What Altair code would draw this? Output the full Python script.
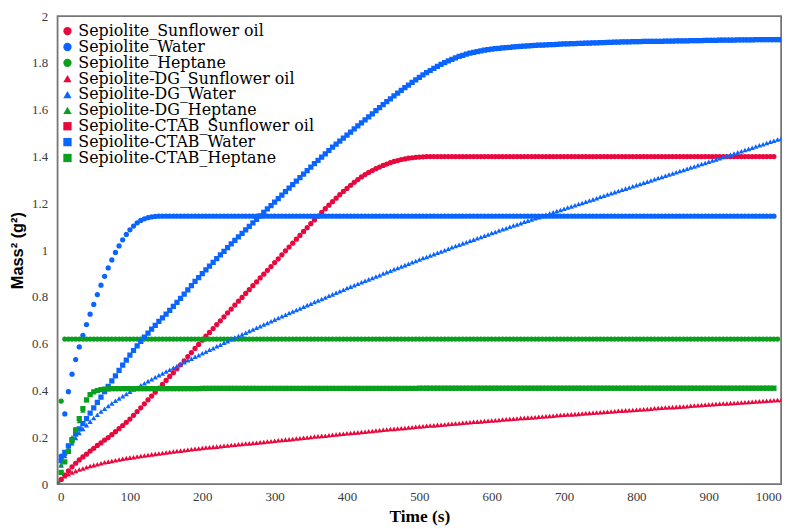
import altair as alt
import pandas as pd

SERIES = [
    "Sepiolite_Sunflower oil", "Sepiolite_Water", "Sepiolite_Heptane",
    "Sepiolite-DG_Sunflower oil", "Sepiolite-DG_Water", "Sepiolite-DG_Heptane",
    "Sepiolite-CTAB_Sunflower oil", "Sepiolite-CTAB_Water", "Sepiolite-CTAB_Heptane",
]
RED, BLUE, GREEN = "#E8083E", "#0A64FF", "#0AA01E"
COLORS = [RED, BLUE, GREEN, RED, BLUE, GREEN, RED, BLUE, GREEN]
SHAPES = ["circle"] * 3 + ["triangle-up"] * 3 + ["square"] * 3

TIME_STEP_S = 5  # one reading every 5 s, starting at t = 0
X_TICKS = [0, 100, 200, 300, 400, 500, 600, 700, 800, 900, 1000]
Y_TICKS = [0, 0.2, 0.4, 0.6, 0.8, 1.0, 1.2, 1.4, 1.6, 1.8, 2.0]

# Mass^2 (g^2) read every 5 s
S_SUNFLOWER = [
    0, 0.02, 0.038, 0.056, 0.074, 0.089, 0.103, 0.116, 0.128, 0.141, 0.153, 0.165, 0.176, 0.188, 0.199, 0.211, 0.224, 0.237, 0.25, 0.264,
    0.278, 0.294, 0.31, 0.326, 0.343, 0.36, 0.376, 0.393, 0.41, 0.426, 0.443, 0.46, 0.476, 0.493, 0.51, 0.527, 0.545, 0.562, 0.58, 0.597,
    0.615, 0.632, 0.648, 0.665, 0.682, 0.698, 0.715, 0.732, 0.748, 0.765, 0.782, 0.798, 0.815, 0.831, 0.848, 0.864, 0.881, 0.897, 0.914, 0.93,
    0.947, 0.963, 0.98, 0.997, 1.013, 1.03, 1.047, 1.063, 1.08, 1.096, 1.113, 1.129, 1.145, 1.161, 1.177, 1.192, 1.207, 1.222, 1.237, 1.251,
    1.264, 1.277, 1.29, 1.302, 1.313, 1.323, 1.332, 1.34, 1.348, 1.355, 1.362, 1.368, 1.374, 1.379, 1.383, 1.387, 1.39, 1.393, 1.395, 1.397,
    1.398, 1.399, 1.4, 1.4, 1.4, 1.4, 1.4, 1.4, 1.4, 1.4, 1.4, 1.4, 1.4, 1.4, 1.4, 1.4, 1.4, 1.4, 1.4, 1.4,
    1.4, 1.4, 1.4, 1.4, 1.4, 1.4, 1.4, 1.4, 1.4, 1.4, 1.4, 1.4, 1.4, 1.4, 1.4, 1.4, 1.4, 1.4, 1.4, 1.4,
    1.4, 1.4, 1.4, 1.4, 1.4, 1.4, 1.4, 1.4, 1.4, 1.4, 1.4, 1.4, 1.4, 1.4, 1.4, 1.4, 1.4, 1.4, 1.4, 1.4,
    1.4, 1.4, 1.4, 1.4, 1.4, 1.4, 1.4, 1.4, 1.4, 1.4, 1.4, 1.4, 1.4, 1.4, 1.4, 1.4, 1.4, 1.4, 1.4, 1.4,
    1.4, 1.4, 1.4, 1.4, 1.4, 1.4, 1.4, 1.4, 1.4, 1.4, 1.4, 1.4, 1.4, 1.4, 1.4, 1.4, 1.4, 1.4, 1.4,
]
S_WATER = [
    0, 0.12, 0.3, 0.395, 0.47, 0.532, 0.586, 0.636, 0.682, 0.726, 0.768, 0.81, 0.85, 0.888, 0.924, 0.958, 0.99, 1.018, 1.044, 1.067,
    1.087, 1.103, 1.117, 1.127, 1.134, 1.139, 1.142, 1.144, 1.145, 1.145, 1.145, 1.145, 1.145, 1.145, 1.145, 1.145, 1.145, 1.145, 1.145, 1.145,
    1.145, 1.145, 1.145, 1.145, 1.145, 1.145, 1.145, 1.145, 1.145, 1.145, 1.145, 1.145, 1.145, 1.145, 1.145, 1.145, 1.145, 1.145, 1.145, 1.145,
    1.145, 1.145, 1.145, 1.145, 1.145, 1.145, 1.145, 1.145, 1.145, 1.145, 1.145, 1.145, 1.145, 1.145, 1.145, 1.145, 1.145, 1.145, 1.145, 1.145,
    1.145, 1.145, 1.145, 1.145, 1.145, 1.145, 1.145, 1.145, 1.145, 1.145, 1.145, 1.145, 1.145, 1.145, 1.145, 1.145, 1.145, 1.145, 1.145, 1.145,
    1.145, 1.145, 1.145, 1.145, 1.145, 1.145, 1.145, 1.145, 1.145, 1.145, 1.145, 1.145, 1.145, 1.145, 1.145, 1.145, 1.145, 1.145, 1.145, 1.145,
    1.145, 1.145, 1.145, 1.145, 1.145, 1.145, 1.145, 1.145, 1.145, 1.145, 1.145, 1.145, 1.145, 1.145, 1.145, 1.145, 1.145, 1.145, 1.145, 1.145,
    1.145, 1.145, 1.145, 1.145, 1.145, 1.145, 1.145, 1.145, 1.145, 1.145, 1.145, 1.145, 1.145, 1.145, 1.145, 1.145, 1.145, 1.145, 1.145, 1.145,
    1.145, 1.145, 1.145, 1.145, 1.145, 1.145, 1.145, 1.145, 1.145, 1.145, 1.145, 1.145, 1.145, 1.145, 1.145, 1.145, 1.145, 1.145, 1.145, 1.145,
    1.145, 1.145, 1.145, 1.145, 1.145, 1.145, 1.145, 1.145, 1.145, 1.145, 1.145, 1.145, 1.145, 1.145, 1.145, 1.145, 1.145, 1.145, 1.145,
]
S_HEPTANE = [
    0, 0.355, 0.62, 0.62, 0.62, 0.62, 0.62, 0.62, 0.62, 0.62, 0.62, 0.62, 0.62, 0.62, 0.62, 0.62, 0.62, 0.62, 0.62, 0.62,
    0.62, 0.62, 0.62, 0.62, 0.62, 0.62, 0.62, 0.62, 0.62, 0.62, 0.62, 0.62, 0.62, 0.62, 0.62, 0.62, 0.62, 0.62, 0.62, 0.62,
    0.62, 0.62, 0.62, 0.62, 0.62, 0.62, 0.62, 0.62, 0.62, 0.62, 0.62, 0.62, 0.62, 0.62, 0.62, 0.62, 0.62, 0.62, 0.62, 0.62,
    0.62, 0.62, 0.62, 0.62, 0.62, 0.62, 0.62, 0.62, 0.62, 0.62, 0.62, 0.62, 0.62, 0.62, 0.62, 0.62, 0.62, 0.62, 0.62, 0.62,
    0.62, 0.62, 0.62, 0.62, 0.62, 0.62, 0.62, 0.62, 0.62, 0.62, 0.62, 0.62, 0.62, 0.62, 0.62, 0.62, 0.62, 0.62, 0.62, 0.62,
    0.62, 0.62, 0.62, 0.62, 0.62, 0.62, 0.62, 0.62, 0.62, 0.62, 0.62, 0.62, 0.62, 0.62, 0.62, 0.62, 0.62, 0.62, 0.62, 0.62,
    0.62, 0.62, 0.62, 0.62, 0.62, 0.62, 0.62, 0.62, 0.62, 0.62, 0.62, 0.62, 0.62, 0.62, 0.62, 0.62, 0.62, 0.62, 0.62, 0.62,
    0.62, 0.62, 0.62, 0.62, 0.62, 0.62, 0.62, 0.62, 0.62, 0.62, 0.62, 0.62, 0.62, 0.62, 0.62, 0.62, 0.62, 0.62, 0.62, 0.62,
    0.62, 0.62, 0.62, 0.62, 0.62, 0.62, 0.62, 0.62, 0.62, 0.62, 0.62, 0.62, 0.62, 0.62, 0.62, 0.62, 0.62, 0.62, 0.62, 0.62,
    0.62, 0.62, 0.62, 0.62, 0.62, 0.62, 0.62, 0.62, 0.62, 0.62, 0.62, 0.62, 0.62, 0.62, 0.62, 0.62, 0.62, 0.62, 0.62, 0.62,
]
DG_SUNFLOWER = [
    0, 0.022, 0.033, 0.042, 0.05, 0.056, 0.062, 0.067, 0.072, 0.077, 0.081, 0.085, 0.089, 0.093, 0.096, 0.099, 0.102, 0.105, 0.108, 0.111,
    0.113, 0.115, 0.118, 0.12, 0.122, 0.124, 0.127, 0.129, 0.131, 0.133, 0.135, 0.137, 0.139, 0.141, 0.143, 0.145, 0.147, 0.149, 0.151, 0.152,
    0.154, 0.156, 0.157, 0.159, 0.16, 0.162, 0.164, 0.165, 0.167, 0.168, 0.17, 0.171, 0.173, 0.174, 0.176, 0.177, 0.179, 0.18, 0.182, 0.183,
    0.185, 0.187, 0.188, 0.19, 0.191, 0.193, 0.195, 0.196, 0.198, 0.199, 0.201, 0.203, 0.204, 0.206, 0.207, 0.209, 0.211, 0.212, 0.214, 0.215,
    0.217, 0.218, 0.22, 0.221, 0.223, 0.224, 0.226, 0.227, 0.229, 0.23, 0.232, 0.233, 0.235, 0.236, 0.238, 0.239, 0.24, 0.242, 0.243, 0.245,
    0.246, 0.247, 0.249, 0.25, 0.251, 0.253, 0.254, 0.255, 0.257, 0.258, 0.259, 0.26, 0.262, 0.263, 0.264, 0.266, 0.267, 0.268, 0.27, 0.271,
    0.272, 0.273, 0.274, 0.276, 0.277, 0.278, 0.279, 0.28, 0.282, 0.283, 0.284, 0.285, 0.286, 0.288, 0.289, 0.29, 0.291, 0.292, 0.294, 0.295,
    0.296, 0.297, 0.298, 0.299, 0.3, 0.302, 0.303, 0.304, 0.305, 0.306, 0.307, 0.308, 0.309, 0.31, 0.311, 0.313, 0.314, 0.315, 0.316, 0.317,
    0.318, 0.319, 0.32, 0.321, 0.322, 0.324, 0.325, 0.326, 0.327, 0.328, 0.329, 0.33, 0.331, 0.332, 0.333, 0.335, 0.336, 0.337, 0.338, 0.339,
    0.34, 0.341, 0.342, 0.343, 0.344, 0.345, 0.346, 0.347, 0.348, 0.349, 0.35, 0.351, 0.352, 0.353, 0.354, 0.355, 0.356, 0.357, 0.358, 0.359,
    0.36,
]
DG_WATER = [
    0, 0.08, 0.12, 0.15, 0.175, 0.197, 0.218, 0.236, 0.252, 0.267, 0.282, 0.296, 0.31, 0.322, 0.334, 0.345, 0.356, 0.366, 0.376, 0.385,
    0.395, 0.404, 0.413, 0.422, 0.431, 0.44, 0.448, 0.457, 0.465, 0.473, 0.481, 0.489, 0.497, 0.505, 0.513, 0.521, 0.529, 0.536, 0.544, 0.551,
    0.559, 0.566, 0.574, 0.581, 0.589, 0.596, 0.604, 0.611, 0.619, 0.626, 0.633, 0.64, 0.647, 0.654, 0.661, 0.668, 0.675, 0.682, 0.689, 0.696,
    0.703, 0.71, 0.717, 0.724, 0.731, 0.738, 0.744, 0.751, 0.758, 0.765, 0.771, 0.778, 0.785, 0.791, 0.798, 0.805, 0.811, 0.818, 0.824, 0.831,
    0.838, 0.844, 0.85, 0.856, 0.863, 0.869, 0.875, 0.881, 0.887, 0.893, 0.9, 0.906, 0.912, 0.918, 0.924, 0.93, 0.936, 0.942, 0.948, 0.954,
    0.96, 0.966, 0.971, 0.977, 0.983, 0.989, 0.994, 1.0, 1.006, 1.012, 1.018, 1.023, 1.029, 1.034, 1.04, 1.045, 1.051, 1.056, 1.062, 1.067,
    1.073, 1.078, 1.084, 1.089, 1.094, 1.1, 1.105, 1.11, 1.115, 1.121, 1.126, 1.131, 1.136, 1.141, 1.146, 1.151, 1.157, 1.162, 1.167, 1.172,
    1.177, 1.182, 1.187, 1.192, 1.197, 1.202, 1.207, 1.212, 1.217, 1.222, 1.228, 1.233, 1.238, 1.243, 1.248, 1.253, 1.258, 1.263, 1.268, 1.273,
    1.278, 1.283, 1.288, 1.293, 1.298, 1.303, 1.308, 1.313, 1.318, 1.323, 1.328, 1.333, 1.338, 1.343, 1.348, 1.353, 1.358, 1.363, 1.368, 1.373,
    1.378, 1.383, 1.388, 1.393, 1.398, 1.403, 1.408, 1.413, 1.418, 1.423, 1.428, 1.433, 1.438, 1.443, 1.448, 1.453, 1.458, 1.463, 1.468, 1.473,
    1.477,
]
DG_HEPTANE = [
    0, 0.085, 0.13, 0.165, 0.2, 0.235, 0.27, 0.315, 0.36, 0.385, 0.397, 0.402, 0.405, 0.406, 0.407, 0.408, 0.408, 0.408, 0.408, 0.408,
    0.408, 0.408, 0.408, 0.408, 0.408, 0.408, 0.408, 0.408, 0.408, 0.408, 0.408, 0.408, 0.408, 0.408, 0.408, 0.408, 0.408, 0.408, 0.408, 0.408,
    0.409, 0.409, 0.409, 0.409, 0.409, 0.409, 0.409, 0.409, 0.409, 0.409, 0.409, 0.409, 0.409, 0.409, 0.409, 0.409, 0.409, 0.409, 0.409, 0.409,
    0.409, 0.409, 0.409, 0.409, 0.409, 0.409, 0.409, 0.409, 0.409, 0.409, 0.409, 0.409, 0.409, 0.409, 0.409, 0.409, 0.409, 0.409, 0.409, 0.409,
    0.409, 0.409, 0.409, 0.409, 0.409, 0.409, 0.409, 0.409, 0.409, 0.409, 0.409, 0.409, 0.409, 0.409, 0.409, 0.409, 0.409, 0.409, 0.409, 0.409,
    0.41, 0.41, 0.41, 0.41, 0.41, 0.41, 0.41, 0.41, 0.41, 0.41, 0.41, 0.41, 0.41, 0.41, 0.41, 0.41, 0.41, 0.41, 0.41, 0.41,
    0.41, 0.41, 0.41, 0.41, 0.41, 0.41, 0.41, 0.41, 0.41, 0.41, 0.41, 0.41, 0.41, 0.41, 0.41, 0.41, 0.41, 0.41, 0.41, 0.41,
    0.41, 0.41, 0.41, 0.41, 0.41, 0.41, 0.41, 0.41, 0.41, 0.41, 0.41, 0.41, 0.41, 0.41, 0.41, 0.41, 0.41, 0.41, 0.41, 0.41,
    0.41, 0.41, 0.41, 0.41, 0.41, 0.41, 0.41, 0.41, 0.41, 0.41, 0.41, 0.41, 0.41, 0.41, 0.41, 0.41, 0.41, 0.41, 0.41, 0.41,
    0.41, 0.41, 0.41, 0.41, 0.41, 0.41, 0.41, 0.41, 0.41, 0.41, 0.41, 0.41, 0.41, 0.41, 0.41, 0.41, 0.41, 0.41, 0.41,
]
CTAB_SUNFLOWER = []  # no markers of this series are visible in the chart
CTAB_WATER = [
    0, 0.1, 0.135, 0.163, 0.19, 0.213, 0.236, 0.258, 0.28, 0.303, 0.326, 0.349, 0.372, 0.395, 0.418, 0.441, 0.463, 0.486, 0.508, 0.53,
    0.551, 0.571, 0.591, 0.61, 0.628, 0.645, 0.662, 0.678, 0.695, 0.711, 0.727, 0.743, 0.76, 0.777, 0.794, 0.812, 0.83, 0.848, 0.866, 0.883,
    0.9, 0.916, 0.932, 0.948, 0.964, 0.98, 0.995, 1.011, 1.027, 1.042, 1.057, 1.072, 1.087, 1.102, 1.117, 1.132, 1.146, 1.161, 1.176, 1.19,
    1.205, 1.22, 1.235, 1.25, 1.265, 1.28, 1.295, 1.31, 1.325, 1.34, 1.355, 1.37, 1.384, 1.398, 1.412, 1.426, 1.44, 1.453, 1.466, 1.479,
    1.492, 1.505, 1.518, 1.531, 1.544, 1.557, 1.57, 1.583, 1.596, 1.609, 1.622, 1.635, 1.647, 1.659, 1.671, 1.683, 1.695, 1.706, 1.717, 1.728,
    1.739, 1.749, 1.759, 1.768, 1.777, 1.786, 1.794, 1.802, 1.809, 1.816, 1.822, 1.828, 1.833, 1.838, 1.842, 1.846, 1.849, 1.852, 1.855, 1.857,
    1.859, 1.861, 1.863, 1.865, 1.866, 1.867, 1.869, 1.87, 1.871, 1.872, 1.873, 1.874, 1.875, 1.876, 1.877, 1.878, 1.879, 1.879, 1.88, 1.881,
    1.882, 1.882, 1.883, 1.883, 1.884, 1.884, 1.885, 1.885, 1.886, 1.886, 1.887, 1.887, 1.888, 1.888, 1.889, 1.889, 1.89, 1.89, 1.89, 1.891,
    1.891, 1.891, 1.892, 1.892, 1.892, 1.893, 1.893, 1.893, 1.894, 1.894, 1.894, 1.895, 1.895, 1.895, 1.895, 1.896, 1.896, 1.896, 1.896, 1.897,
    1.897, 1.897, 1.897, 1.898, 1.898, 1.898, 1.898, 1.898, 1.899, 1.899, 1.899, 1.899, 1.899, 1.9, 1.9, 1.9, 1.9, 1.9, 1.9, 1.9,
    1.9,
]
CTAB_HEPTANE = [
    0, 0.05, 0.095, 0.14, 0.185, 0.232, 0.28, 0.322, 0.36, 0.382, 0.394, 0.4, 0.404, 0.406, 0.407, 0.408, 0.408, 0.408, 0.408, 0.408,
    0.408, 0.408, 0.408, 0.408, 0.408, 0.408, 0.408, 0.408, 0.408, 0.408, 0.408, 0.408, 0.408, 0.408, 0.408, 0.408, 0.408, 0.408, 0.408, 0.408,
    0.409, 0.409, 0.409, 0.409, 0.409, 0.409, 0.409, 0.409, 0.409, 0.409, 0.409, 0.409, 0.409, 0.409, 0.409, 0.409, 0.409, 0.409, 0.409, 0.409,
    0.409, 0.409, 0.409, 0.409, 0.409, 0.409, 0.409, 0.409, 0.409, 0.409, 0.409, 0.409, 0.409, 0.409, 0.409, 0.409, 0.409, 0.409, 0.409, 0.409,
    0.409, 0.409, 0.409, 0.409, 0.409, 0.409, 0.409, 0.409, 0.409, 0.409, 0.409, 0.409, 0.409, 0.409, 0.409, 0.409, 0.409, 0.409, 0.409, 0.409,
    0.41, 0.41, 0.41, 0.41, 0.41, 0.41, 0.41, 0.41, 0.41, 0.41, 0.41, 0.41, 0.41, 0.41, 0.41, 0.41, 0.41, 0.41, 0.41, 0.41,
    0.41, 0.41, 0.41, 0.41, 0.41, 0.41, 0.41, 0.41, 0.41, 0.41, 0.41, 0.41, 0.41, 0.41, 0.41, 0.41, 0.41, 0.41, 0.41, 0.41,
    0.41, 0.41, 0.41, 0.41, 0.41, 0.41, 0.41, 0.41, 0.41, 0.41, 0.41, 0.41, 0.41, 0.41, 0.41, 0.41, 0.41, 0.41, 0.41, 0.41,
    0.41, 0.41, 0.41, 0.41, 0.41, 0.41, 0.41, 0.41, 0.41, 0.41, 0.41, 0.41, 0.41, 0.41, 0.41, 0.41, 0.41, 0.41, 0.41, 0.41,
    0.41, 0.41, 0.41, 0.41, 0.41, 0.41, 0.41, 0.41, 0.41, 0.41, 0.41, 0.41, 0.41, 0.41, 0.41, 0.41, 0.41, 0.41, 0.41,
]

VALUES = [S_SUNFLOWER, S_WATER, S_HEPTANE, DG_SUNFLOWER, DG_WATER, DG_HEPTANE,
          CTAB_SUNFLOWER, CTAB_WATER, CTAB_HEPTANE]

rows = []
for name, vals in zip(SERIES, VALUES):
    for i, v in enumerate(vals):
        rows.append({"series": name, "time": i * TIME_STEP_S, "mass2": v})
df = pd.DataFrame(rows)

SERIF = "Liberation Serif"
LEGEND_FONT = "DejaVu Serif"

legend = alt.Legend(
    title=None, orient="none", legendX=2, legendY=7, padding=0,
    symbolSize=70, symbolStrokeWidth=0, labelFont=LEGEND_FONT,
    labelFontSize=16, labelColor="#000000", labelOffset=3, rowPadding=-1,
    labelLimit=400,
)

chart = (
    alt.Chart(df)
    .mark_point(filled=True, opacity=1, size=28, clip=True)
    .encode(
        x=alt.X("time:Q", scale=alt.Scale(domain=[0, 1000], nice=False),
                axis=alt.Axis(values=X_TICKS, format="d", title="Time (s)", labelPadding=7,
                              titleFont=SERIF, titleFontSize=17.5,
                              titleFontWeight="bold", titlePadding=4, titleColor="#000000")),
        y=alt.Y("mass2:Q", scale=alt.Scale(domain=[0, 2], nice=False),
                axis=alt.Axis(values=Y_TICKS, format="~g", title="Mass² (g²)", labelPadding=10,
                              titleFont="Liberation Sans", titleFontSize=16.5,
                              titleFontWeight="bold", titlePadding=6, titleColor="#000000")),
        color=alt.Color("series:N", scale=alt.Scale(domain=SERIES, range=COLORS), legend=legend),
        shape=alt.Shape("series:N", scale=alt.Scale(domain=SERIES, range=SHAPES), legend=legend),
    )
    .properties(
        width=730, height=472,
        padding={"left": 50, "top": 6, "right": 14, "bottom": 40},
        autosize=alt.AutoSizeParams(type="none"),
    )
    .configure_view(stroke="#767676", strokeWidth=1.8)
    .configure_axis(domain=False, ticks=False, grid=False,
                    labelFont=SERIF, labelFontSize=13, labelColor="#3a3a3a")
    .configure_legend(labelFont=LEGEND_FONT, labelFontSize=16, labelColor="#000000",
                      rowPadding=-1, symbolSize=70, labelOffset=3, padding=0)
)

chart.save("out.html", embed_options={"renderer": "svg", "actions": False})
